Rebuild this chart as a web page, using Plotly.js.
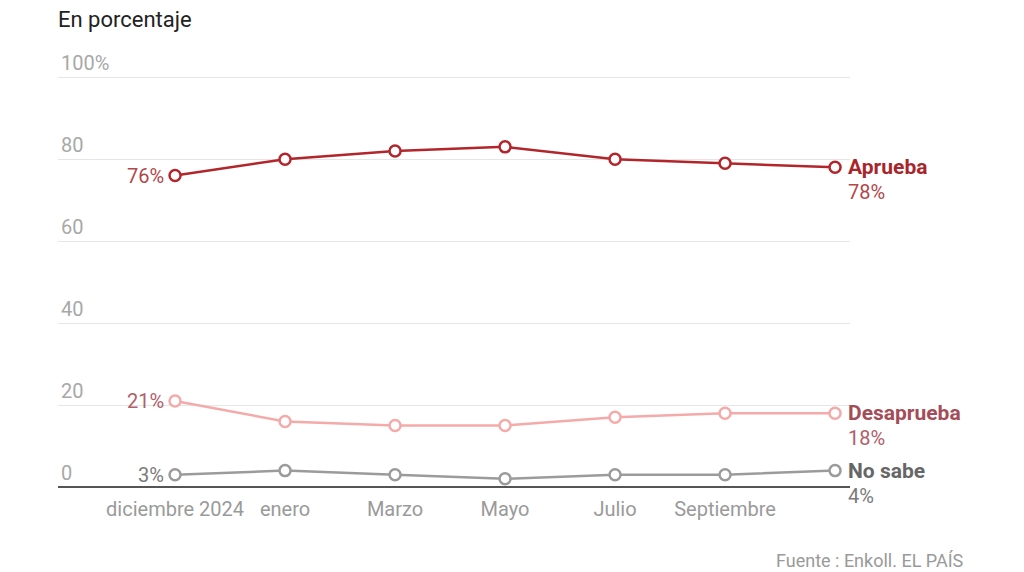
<!DOCTYPE html>
<html><head><meta charset="utf-8">
<script src="https://cdn.plot.ly/plotly-3.0.1.min.js"></script>
<style>body{margin:0;background:#fff}#c{width:1024px;height:572px}</style>
</head><body><div id="c"></div>
<script>
const categories = ['diciembre 2024','enero','Marzo','Mayo','Julio','Septiembre',''];
const aprueba = [76, 80, 82, 83, 80, 79, 78];
const desaprueba = [21, 16, 15, 15, 17, 18, 18];
const noSabe = [3, 4, 3, 2, 3, 3, 4];
const yTickVals = [0, 20, 40, 60, 80, 100];
const yTickText = ['0', '20', '40', '60', '80', '100%'];

const xIdx = categories.map((_, i) => i);
const font = "Roboto, 'Liberation Sans', sans-serif";

const series = [
  {name:'Aprueba', y:aprueba, line:'#b2262b', labelColor:'#a8262b', valColor:'#b2474b'},
  {name:'Desaprueba', y:desaprueba, line:'#f5aaaa', labelColor:'#a34d58', valColor:'#b0606a'},
  {name:'No sabe', y:noSabe, line:'#9b9b9b', labelColor:'#666666', valColor:'#7a7a7a'}
];

const traces = series.map(s => ({
  x: xIdx, y: s.y, type:'scatter', mode:'lines+markers', name:s.name,
  line:{color:s.line, width:2.5},
  marker:{symbol:'circle', size:11, color:'#ffffff', line:{color:s.line, width:2.5}},
  hoverinfo:'skip'
}));

const last = xIdx.length - 1;
const annotations = [];
series.forEach(s => {
  annotations.push({x:0, y:s.y[0], xref:'x', yref:'y', text:s.y[0]+'%', showarrow:false,
    xanchor:'right', yanchor:'middle', xshift:-9, font:{family:font, size:20, color:s.valColor}});
  annotations.push({x:last, y:s.y[last], xref:'x', yref:'y', text:'<b>'+s.name+'</b>', showarrow:false,
    xanchor:'left', yanchor:'middle', xshift:11, font:{family:font, size:21, color:s.labelColor}});
  annotations.push({x:last, y:s.y[last], xref:'x', yref:'y', text:s.y[last]+'%', showarrow:false,
    xanchor:'left', yanchor:'middle', xshift:11, yshift:-25, font:{family:font, size:20, color:s.valColor}});
});
annotations.push({x:1, y:0, xref:'paper', yref:'paper', text:'Fuente : Enkoll. EL PAÍS',
  showarrow:false, xanchor:'right', yanchor:'bottom', xshift:116, yshift:-86,
  font:{family:font, size:18, color:'#9a9a9a'}});

const layout = {
  width:1024, height:572,
  margin:{l:58, r:174, t:69, b:85},
  paper_bgcolor:'#ffffff', plot_bgcolor:'#ffffff',
  showlegend:false,
  title:{text:'En porcentaje', x:58/1024, xanchor:'left', y:1-19/572, yanchor:'middle',
    font:{family:font, size:22, color:'#222222'}},
  xaxis:{range:[-1.064, 6.136], tickvals:xIdx, ticktext:categories, showgrid:false, zeroline:false,
    showline:false, ticks:'', ticklabelstandoff:8, tickfont:{family:font, size:20, color:'#9a9a9a'}, fixedrange:true},
  yaxis:{range:[0,102], tickvals:yTickVals, ticktext:yTickText, ticklabelposition:'inside top',
    ticklabeloverflow:'allow',
    showgrid:true, gridcolor:'#e6e6e6', gridwidth:1, zeroline:true, zerolinecolor:'#555555', zerolinewidth:1.5,
    showline:false, ticks:'', tickfont:{family:font, size:20, color:'#a8a8a8'}, fixedrange:true},
  annotations: annotations
};

Plotly.newPlot('c', traces, layout, {displayModeBar:false, staticPlot:true});
</script></body></html>
